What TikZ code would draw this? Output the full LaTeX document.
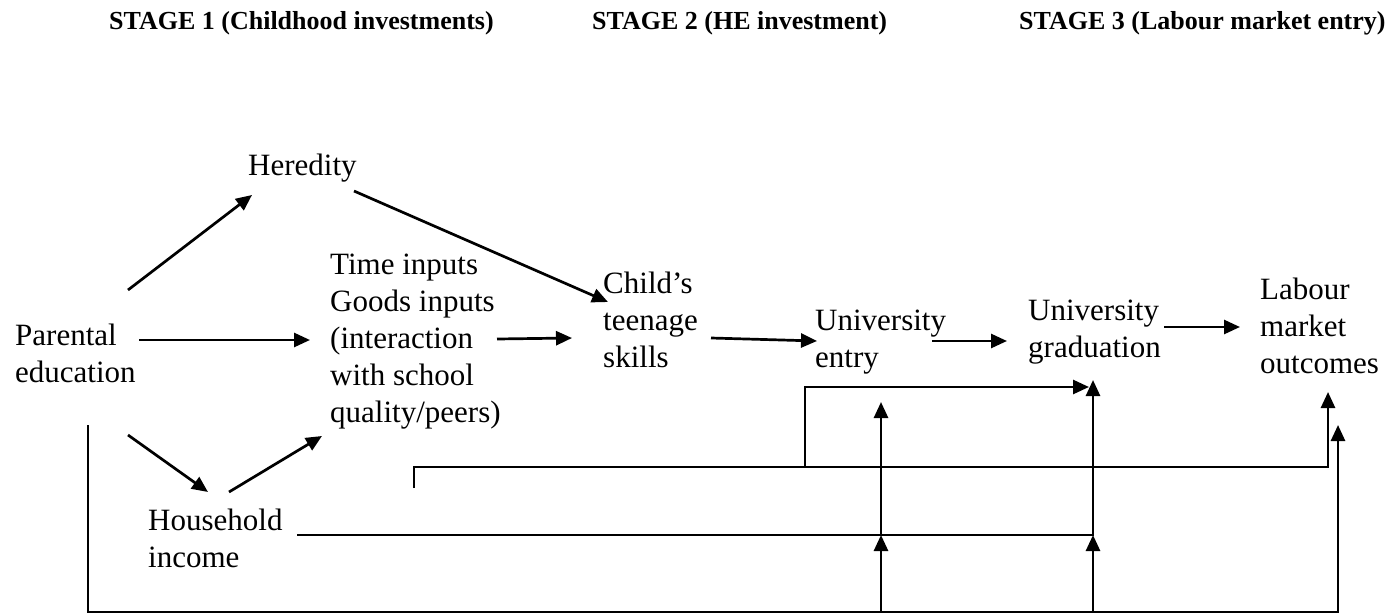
\documentclass[tikz,border=0pt]{standalone}
\usepackage{fontspec}
\setmainfont{Liberation Serif}
\usetikzlibrary{arrows.meta}
\begin{document}
\begin{tikzpicture}[x=1pt,y=-1pt,
  % multi-line labels sit on the baseline of their last line
  lbl/.style={anchor=base west, inner sep=0pt, align=left,
              font=\fontsize{31}{36.8}\selectfont},
  hdr/.style={anchor=base west, inner sep=0pt,
              font=\fontsize{26}{30}\selectfont\bfseries},
  wire/.style={line width=2.7pt},
  link/.style={wire, -{Triangle[length=16pt,width=14pt]}}]
\useasboundingbox (0,0) rectangle (1391,615);

% stage headings
\node[hdr] (h1) at (109,30) {STAGE 1 (Childhood investments)};
\node[hdr] (h2) at (592,30) {STAGE 2 (HE investment)};
\node[hdr] (h3) at (1019,30) {STAGE 3 (Labour market entry)};

% labels
\node[lbl] (pe)  at (15,382)   {Parental\\education};
\node[lbl] (her) at (248,175)  {Heredity};
\node[lbl] (tin) at (330,422)  {Time inputs\\Goods inputs\\(interaction\\with school\\quality/peers)};
\node[lbl] (hh)  at (148,567)  {Household\\income};
\node[lbl] (cts) at (603,367)  {Child’s\\teenage\\skills};
\node[lbl] (ue)  at (815,367)  {University\\entry};
\node[lbl] (ug)  at (1028,357) {University\\graduation};
\node[lbl] (lmo) at (1260,373) {Labour\\market\\outcomes};

% connector ends
\coordinate (pe-up)    at (128,290);
\coordinate (pe-mid)   at (139,340);
\coordinate (pe-down)  at (128,435);
\coordinate (pe-low)   at (88,425);
\coordinate (her-in)   at (252,195);
\coordinate (her-out)  at (354,191);
\coordinate (tin-in)   at (310,340);
\coordinate (tin-inb)  at (322,436);
\coordinate (tin-out)  at (497,339);
\coordinate (tin-low)  at (414,488);
\coordinate (hh-in)    at (208,492);
\coordinate (hh-out)   at (229,492);
\coordinate (hh-line)  at (297,535);
\coordinate (cts-in)   at (572,338);
\coordinate (cts-inh)  at (608,302);
\coordinate (cts-out)  at (711,338);
\coordinate (ue-in)    at (817,341);
\coordinate (ue-out)   at (932,341);
\coordinate (ue-below) at (881,402);
\coordinate (ug-in)    at (1007,341);
\coordinate (ug-side)  at (1089,387);
\coordinate (ug-below) at (1093,380);
\coordinate (ug-out)   at (1164,327);
\coordinate (lmo-in)   at (1240,327);
\coordinate (lmo-b1)   at (1328,392);
\coordinate (lmo-b2)   at (1338,425);
\coordinate (step)     at (805,467);
\coordinate (hh-ue)    at (881,535);
\coordinate (hh-ug)    at (1093,535);
\coordinate (base-ue)  at (881,612);
\coordinate (base-ug)  at (1093,612);

% stage 1 links
\draw[link] (pe-up) -- (her-in);
\draw[link] (pe-mid) -- (tin-in);
\draw[link] (pe-down) -- (hh-in);
\draw[link] (hh-out) -- (tin-inb);
\draw[link] (her-out) -- (cts-inh);
\draw[link] (tin-out) -- (cts-in);

% main chain
\draw[link] (cts-out) -- (ue-in);
\draw[link] (ue-out) -- (ug-in);
\draw[link] (ug-out) -- (lmo-in);

% school quality route to graduation and labour market
\draw[wire] (tin-low) |- (step);
\draw[link] (step) |- (ug-side);
\draw[link] (step) -| (lmo-b1);

% household income route
\draw[link] (hh-line) -| (ug-below);
\draw[link] (hh-ue) -- (ue-below);

% parental education route along the bottom
\draw[link] (pe-low) |- (base-ug) -| (lmo-b2);
\draw[link] (base-ue) -- (hh-ue);
\draw[link] (base-ug) -- (hh-ug);
\end{tikzpicture}
\end{document}
